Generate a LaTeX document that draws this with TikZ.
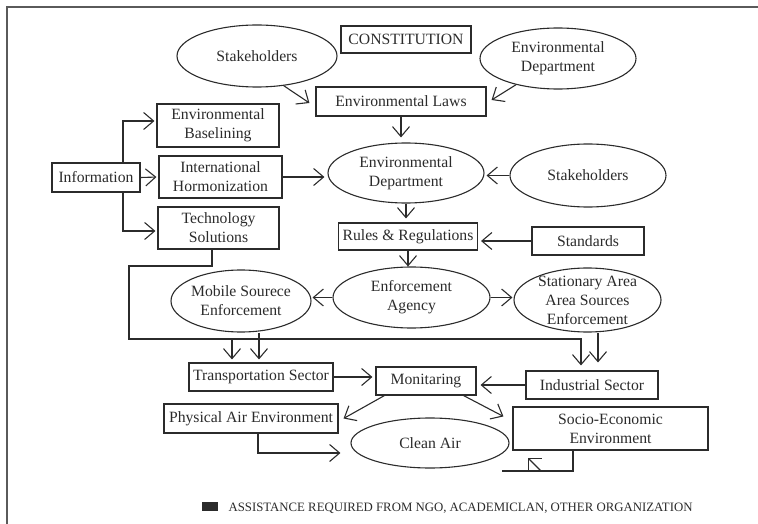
\documentclass[tikz,border=0pt]{standalone}
\usepackage{fontspec}
\setmainfont{Liberation Serif}
\usetikzlibrary{shapes.geometric,arrows.meta,calc}
\definecolor{ink}{HTML}{2B2B2B}
\definecolor{framec}{HTML}{5A5A5A}
\begin{document}
\begin{tikzpicture}[x=1pt,y=-1pt,
  every node/.style={text=ink, font=\fontsize{15.7}{19}\selectfont, align=center},
  box/.style={draw=ink, line width=1.1pt, rectangle, inner sep=0pt},
  ell/.style={draw=ink, line width=1.1pt, ellipse, inner sep=-14pt},
  conn/.style={draw=ink, line width=1.1pt, -{Straight Barb[length=10pt,width=17pt]}},
  plainline/.style={draw=ink, line width=1.1pt}]
\useasboundingbox (0,0) rectangle (758,524);

% frame
\draw[framec, line width=2pt] (7,524) -- (7,7) -- (758,7);

% top
\node[ell, minimum width=160pt, minimum height=62pt] (stk1) at (257,56) {Stakeholders};
\node[box, minimum width=130pt, minimum height=27pt] (const) at (406,39.5) {CONSTITUTION};
\node[ell, minimum width=156pt, minimum height=61pt] (envd1) at (558,58.5) {Environmental\\Department};
\node[box, minimum width=170pt, minimum height=29pt] (laws) at (401,101.5) {Environmental Laws};

% middle
\node[ell, minimum width=156pt, minimum height=60pt] (envd2) at (406,173) {Environmental\\Department};
\node[ell, minimum width=156pt, minimum height=63pt] (stk2) at (588,175.5) {Stakeholders};
\node[box, minimum width=88pt, minimum height=29pt] (info) at (96,177.5) {Information};
\node[box, minimum width=122pt, minimum height=43pt] (base) at (218,125.5) {Environmental\\Baselining};
\node[box, minimum width=123pt, minimum height=42pt] (horm) at (220.5,177) {International\\Hormonization};
\node[box, minimum width=121pt, minimum height=42pt] (tech) at (218.5,228) {Technology\\Solutions};
\node[box, minimum width=139pt, minimum height=27pt] (rules) at (408,236.5) {Rules \& Regulations};
\node[box, minimum width=112pt, minimum height=28pt] (std) at (588,241) {Standards};

% enforcement
\node[ell, minimum width=157pt, minimum height=61pt] (enf) at (411.5,297.5) {Enforcement\\Agency};
\node[ell, minimum width=140pt, minimum height=62pt] (mob) at (241,301) {Mobile Sourece\\Enforcement};
\node[ell, minimum width=147pt, minimum height=64pt] (stat) at (587.5,300) {Stationary Area\\Area Sources\\Enforcement};

% sectors
\node[box, minimum width=144pt, minimum height=28pt] (trans) at (261,377) {Transportation Sector};
\node[box, minimum width=100pt, minimum height=28pt] (mon) at (426,381) {Monitaring};
\node[box, minimum width=132pt, minimum height=28pt] (ind) at (592,385) {Industrial Sector};
\node[box, minimum width=174pt, minimum height=29pt] (phys) at (251,418.5) {Physical Air Environment};
\node[ell, minimum width=158pt, minimum height=50pt] (clean) at (430,443) {Clean Air};
\node[box, minimum width=195pt, minimum height=43pt] (socio) at (610.5,428.5) {Socio-Economic\\Environment};

% connectors top
\draw[conn] (stk1.-48) -- ([xshift=-6pt,yshift=-1.5pt]laws.west);
\draw[conn] (envd1.-148) -- ([xshift=5pt,yshift=1.5pt]laws.east);
\draw[conn, shorten >=5pt] (laws.south) -- (laws.south |- envd2.north);

% information
\draw[conn, shorten >=2pt] ([xshift=27pt]info.north) |- ([yshift=4.5pt]base.west);
\draw[conn, shorten >=2pt] ([xshift=27pt]info.south) |- ([yshift=-3pt]tech.west);
\draw[conn, shorten >=2pt] (info.east) -- (horm.west);
\draw[conn, shorten >=3pt] (horm.east) -- (horm.east -| envd2.west);
\draw[conn, shorten >=2pt] (stk2.west) -- (stk2.west -| envd2.east);
\draw[conn, shorten >=4pt] (envd2.south) -- (envd2.south |- rules.north);
\draw[conn, shorten >=3pt] (std.west) -- (std.west -| rules.east);
\draw[conn] (rules.south) -- (rules.south |- enf.north);
\draw[conn, shorten >=1pt] (enf.west) -- (enf.west -| mob.east);
\draw[conn, shorten >=1pt] (enf.east) -- (enf.east -| stat.west);

% loop from technology solutions
\coordinate (lpa) at (129,266);
\coordinate (lpb) at (129,339);
\coordinate (ta) at ([xshift=-11pt]ind.north);
\draw[conn, shorten >=5pt] ([xshift=-6.5pt]tech.south) |- (lpa) -- (lpb) -| (ta);
\coordinate (tb) at ([xshift=-29pt]trans.north);
\draw[conn, shorten >=3pt] (tb |- lpb) -- (tb);
\coordinate (tc) at ([xshift=-2pt]trans.north);
\draw[conn, shorten >=3pt] (tc |- mob.south) -- (tc);
\coordinate (td) at ([xshift=6pt]ind.north);
\draw[conn, shorten >=8pt] (td |- stat.south) -- (td);

% monitoring
\draw[conn, shorten >=3pt] (trans.east) -- (trans.east -| mon.west);
\draw[conn, shorten >=4pt] (ind.west) -- (ind.west -| mon.east);
\draw[conn] ([xshift=9pt]mon.south west) -- ([xshift=5pt]phys.east);
\draw[conn] ([xshift=-13pt]mon.south east) -- ([xshift=-9pt,yshift=-10pt]socio.north west);
\draw[conn] ([xshift=7pt]phys.south) |- ([xshift=-10pt,yshift=-10pt]clean.west);

% socio-economic return
\coordinate (se) at (502,471);
\draw[plainline] ([xshift=-37.5pt]socio.south) |- (se);
\coordinate (sa) at (541,471);
\coordinate (sb) at (528,458);
\draw[plainline, -{Straight Barb[length=9.2pt,width=18.4pt]}] (sa) -- (sb);

% legend
\node[fill=ink, draw=none, minimum width=16pt, minimum height=9pt, inner sep=0pt] (legbox) at (210,506.5) {};
\node[anchor=base west, font=\fontsize{12.8}{15}\selectfont] (legtxt) at (225,511.5) {ASSISTANCE REQUIRED FROM NGO, ACADEMICLAN, OTHER ORGANIZATION};
\end{tikzpicture}
\end{document}
